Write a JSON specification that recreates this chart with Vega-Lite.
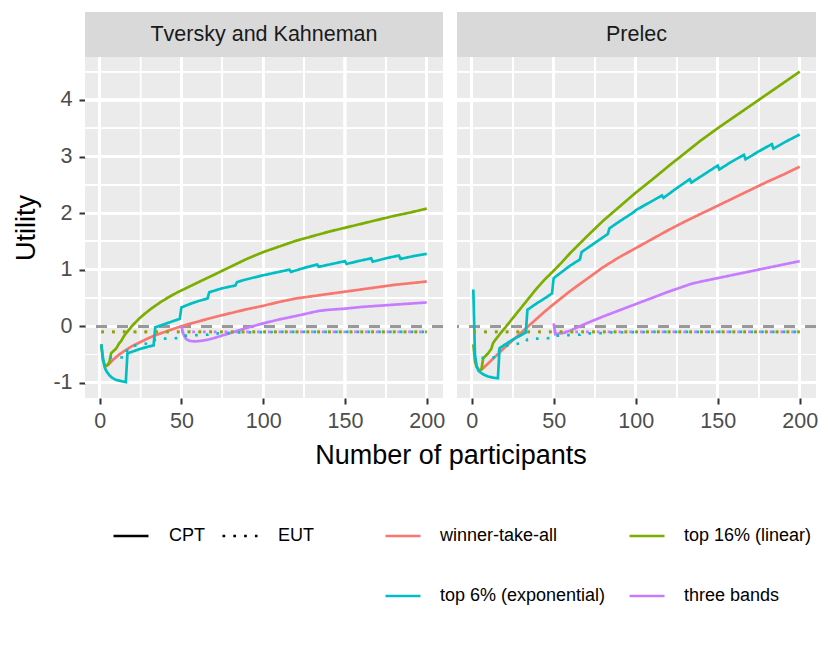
{
  "$schema": "https://vega.github.io/schema/vega-lite/v6.json",
  "padding": {"left": 12, "top": 12, "right": 10, "bottom": 10},
  "datasets": {
    "utility": [
      {"model": "TK", "scheme": "winner-take-all", "theory": "CPT", "n": 4, "utility": -0.71},
      {"model": "TK", "scheme": "winner-take-all", "theory": "CPT", "n": 5, "utility": -0.69},
      {"model": "TK", "scheme": "winner-take-all", "theory": "CPT", "n": 6, "utility": -0.66},
      {"model": "TK", "scheme": "winner-take-all", "theory": "CPT", "n": 8, "utility": -0.6},
      {"model": "TK", "scheme": "winner-take-all", "theory": "CPT", "n": 10, "utility": -0.55},
      {"model": "TK", "scheme": "winner-take-all", "theory": "CPT", "n": 12, "utility": -0.5},
      {"model": "TK", "scheme": "winner-take-all", "theory": "CPT", "n": 15, "utility": -0.44},
      {"model": "TK", "scheme": "winner-take-all", "theory": "CPT", "n": 20, "utility": -0.35},
      {"model": "TK", "scheme": "winner-take-all", "theory": "CPT", "n": 25, "utility": -0.28},
      {"model": "TK", "scheme": "winner-take-all", "theory": "CPT", "n": 30, "utility": -0.21},
      {"model": "TK", "scheme": "winner-take-all", "theory": "CPT", "n": 35, "utility": -0.15},
      {"model": "TK", "scheme": "winner-take-all", "theory": "CPT", "n": 40, "utility": -0.1},
      {"model": "TK", "scheme": "winner-take-all", "theory": "CPT", "n": 45, "utility": -0.05},
      {"model": "TK", "scheme": "winner-take-all", "theory": "CPT", "n": 50, "utility": 0.0},
      {"model": "TK", "scheme": "winner-take-all", "theory": "CPT", "n": 60, "utility": 0.08},
      {"model": "TK", "scheme": "winner-take-all", "theory": "CPT", "n": 70, "utility": 0.16},
      {"model": "TK", "scheme": "winner-take-all", "theory": "CPT", "n": 80, "utility": 0.23},
      {"model": "TK", "scheme": "winner-take-all", "theory": "CPT", "n": 90, "utility": 0.3},
      {"model": "TK", "scheme": "winner-take-all", "theory": "CPT", "n": 100, "utility": 0.36},
      {"model": "TK", "scheme": "winner-take-all", "theory": "CPT", "n": 110, "utility": 0.43},
      {"model": "TK", "scheme": "winner-take-all", "theory": "CPT", "n": 120, "utility": 0.49},
      {"model": "TK", "scheme": "winner-take-all", "theory": "CPT", "n": 130, "utility": 0.53},
      {"model": "TK", "scheme": "winner-take-all", "theory": "CPT", "n": 140, "utility": 0.57},
      {"model": "TK", "scheme": "winner-take-all", "theory": "CPT", "n": 150, "utility": 0.61},
      {"model": "TK", "scheme": "winner-take-all", "theory": "CPT", "n": 160, "utility": 0.65},
      {"model": "TK", "scheme": "winner-take-all", "theory": "CPT", "n": 170, "utility": 0.69},
      {"model": "TK", "scheme": "winner-take-all", "theory": "CPT", "n": 180, "utility": 0.73},
      {"model": "TK", "scheme": "winner-take-all", "theory": "CPT", "n": 190, "utility": 0.76},
      {"model": "TK", "scheme": "winner-take-all", "theory": "CPT", "n": 200, "utility": 0.79},

      {"model": "TK", "scheme": "top 16% (linear)", "theory": "CPT", "n": 1, "utility": -0.32},
      {"model": "TK", "scheme": "top 16% (linear)", "theory": "CPT", "n": 2, "utility": -0.6},
      {"model": "TK", "scheme": "top 16% (linear)", "theory": "CPT", "n": 3, "utility": -0.68},
      {"model": "TK", "scheme": "top 16% (linear)", "theory": "CPT", "n": 4, "utility": -0.7},
      {"model": "TK", "scheme": "top 16% (linear)", "theory": "CPT", "n": 5, "utility": -0.68},
      {"model": "TK", "scheme": "top 16% (linear)", "theory": "CPT", "n": 6, "utility": -0.63},
      {"model": "TK", "scheme": "top 16% (linear)", "theory": "CPT", "n": 7, "utility": -0.48},
      {"model": "TK", "scheme": "top 16% (linear)", "theory": "CPT", "n": 8, "utility": -0.45},
      {"model": "TK", "scheme": "top 16% (linear)", "theory": "CPT", "n": 10, "utility": -0.4},
      {"model": "TK", "scheme": "top 16% (linear)", "theory": "CPT", "n": 12, "utility": -0.3},
      {"model": "TK", "scheme": "top 16% (linear)", "theory": "CPT", "n": 13, "utility": -0.27},
      {"model": "TK", "scheme": "top 16% (linear)", "theory": "CPT", "n": 15, "utility": -0.17},
      {"model": "TK", "scheme": "top 16% (linear)", "theory": "CPT", "n": 18, "utility": -0.06},
      {"model": "TK", "scheme": "top 16% (linear)", "theory": "CPT", "n": 20, "utility": 0.01},
      {"model": "TK", "scheme": "top 16% (linear)", "theory": "CPT", "n": 24, "utility": 0.13},
      {"model": "TK", "scheme": "top 16% (linear)", "theory": "CPT", "n": 28, "utility": 0.23},
      {"model": "TK", "scheme": "top 16% (linear)", "theory": "CPT", "n": 32, "utility": 0.32},
      {"model": "TK", "scheme": "top 16% (linear)", "theory": "CPT", "n": 37, "utility": 0.42},
      {"model": "TK", "scheme": "top 16% (linear)", "theory": "CPT", "n": 42, "utility": 0.51},
      {"model": "TK", "scheme": "top 16% (linear)", "theory": "CPT", "n": 47, "utility": 0.59},
      {"model": "TK", "scheme": "top 16% (linear)", "theory": "CPT", "n": 52, "utility": 0.66},
      {"model": "TK", "scheme": "top 16% (linear)", "theory": "CPT", "n": 57, "utility": 0.73},
      {"model": "TK", "scheme": "top 16% (linear)", "theory": "CPT", "n": 62, "utility": 0.8},
      {"model": "TK", "scheme": "top 16% (linear)", "theory": "CPT", "n": 70, "utility": 0.91},
      {"model": "TK", "scheme": "top 16% (linear)", "theory": "CPT", "n": 80, "utility": 1.05},
      {"model": "TK", "scheme": "top 16% (linear)", "theory": "CPT", "n": 90, "utility": 1.19},
      {"model": "TK", "scheme": "top 16% (linear)", "theory": "CPT", "n": 100, "utility": 1.31},
      {"model": "TK", "scheme": "top 16% (linear)", "theory": "CPT", "n": 110, "utility": 1.41},
      {"model": "TK", "scheme": "top 16% (linear)", "theory": "CPT", "n": 120, "utility": 1.51},
      {"model": "TK", "scheme": "top 16% (linear)", "theory": "CPT", "n": 130, "utility": 1.59},
      {"model": "TK", "scheme": "top 16% (linear)", "theory": "CPT", "n": 140, "utility": 1.67},
      {"model": "TK", "scheme": "top 16% (linear)", "theory": "CPT", "n": 150, "utility": 1.74},
      {"model": "TK", "scheme": "top 16% (linear)", "theory": "CPT", "n": 160, "utility": 1.81},
      {"model": "TK", "scheme": "top 16% (linear)", "theory": "CPT", "n": 170, "utility": 1.88},
      {"model": "TK", "scheme": "top 16% (linear)", "theory": "CPT", "n": 180, "utility": 1.95},
      {"model": "TK", "scheme": "top 16% (linear)", "theory": "CPT", "n": 190, "utility": 2.01},
      {"model": "TK", "scheme": "top 16% (linear)", "theory": "CPT", "n": 200, "utility": 2.08},

      {"model": "TK", "scheme": "top 6% (exponential)", "theory": "CPT", "n": 1, "utility": -0.32},
      {"model": "TK", "scheme": "top 6% (exponential)", "theory": "CPT", "n": 2, "utility": -0.56},
      {"model": "TK", "scheme": "top 6% (exponential)", "theory": "CPT", "n": 3, "utility": -0.72},
      {"model": "TK", "scheme": "top 6% (exponential)", "theory": "CPT", "n": 4, "utility": -0.79},
      {"model": "TK", "scheme": "top 6% (exponential)", "theory": "CPT", "n": 6, "utility": -0.87},
      {"model": "TK", "scheme": "top 6% (exponential)", "theory": "CPT", "n": 8, "utility": -0.92},
      {"model": "TK", "scheme": "top 6% (exponential)", "theory": "CPT", "n": 10, "utility": -0.95},
      {"model": "TK", "scheme": "top 6% (exponential)", "theory": "CPT", "n": 13, "utility": -0.97},
      {"model": "TK", "scheme": "top 6% (exponential)", "theory": "CPT", "n": 16, "utility": -0.99},
      {"model": "TK", "scheme": "top 6% (exponential)", "theory": "CPT", "n": 17, "utility": -0.48},
      {"model": "TK", "scheme": "top 6% (exponential)", "theory": "CPT", "n": 20, "utility": -0.45},
      {"model": "TK", "scheme": "top 6% (exponential)", "theory": "CPT", "n": 25, "utility": -0.4},
      {"model": "TK", "scheme": "top 6% (exponential)", "theory": "CPT", "n": 30, "utility": -0.36},
      {"model": "TK", "scheme": "top 6% (exponential)", "theory": "CPT", "n": 33, "utility": -0.34},
      {"model": "TK", "scheme": "top 6% (exponential)", "theory": "CPT", "n": 34, "utility": -0.02},
      {"model": "TK", "scheme": "top 6% (exponential)", "theory": "CPT", "n": 40, "utility": 0.04},
      {"model": "TK", "scheme": "top 6% (exponential)", "theory": "CPT", "n": 45, "utility": 0.09},
      {"model": "TK", "scheme": "top 6% (exponential)", "theory": "CPT", "n": 49, "utility": 0.13},
      {"model": "TK", "scheme": "top 6% (exponential)", "theory": "CPT", "n": 50, "utility": 0.33},
      {"model": "TK", "scheme": "top 6% (exponential)", "theory": "CPT", "n": 55, "utility": 0.39},
      {"model": "TK", "scheme": "top 6% (exponential)", "theory": "CPT", "n": 60, "utility": 0.44},
      {"model": "TK", "scheme": "top 6% (exponential)", "theory": "CPT", "n": 66, "utility": 0.49},
      {"model": "TK", "scheme": "top 6% (exponential)", "theory": "CPT", "n": 67, "utility": 0.6},
      {"model": "TK", "scheme": "top 6% (exponential)", "theory": "CPT", "n": 75, "utility": 0.67},
      {"model": "TK", "scheme": "top 6% (exponential)", "theory": "CPT", "n": 83, "utility": 0.72},
      {"model": "TK", "scheme": "top 6% (exponential)", "theory": "CPT", "n": 84, "utility": 0.78},
      {"model": "TK", "scheme": "top 6% (exponential)", "theory": "CPT", "n": 90, "utility": 0.83},
      {"model": "TK", "scheme": "top 6% (exponential)", "theory": "CPT", "n": 100, "utility": 0.9},
      {"model": "TK", "scheme": "top 6% (exponential)", "theory": "CPT", "n": 108, "utility": 0.95},
      {"model": "TK", "scheme": "top 6% (exponential)", "theory": "CPT", "n": 116, "utility": 1.0},
      {"model": "TK", "scheme": "top 6% (exponential)", "theory": "CPT", "n": 117, "utility": 0.96},
      {"model": "TK", "scheme": "top 6% (exponential)", "theory": "CPT", "n": 125, "utility": 1.03},
      {"model": "TK", "scheme": "top 6% (exponential)", "theory": "CPT", "n": 133, "utility": 1.09},
      {"model": "TK", "scheme": "top 6% (exponential)", "theory": "CPT", "n": 134, "utility": 1.05},
      {"model": "TK", "scheme": "top 6% (exponential)", "theory": "CPT", "n": 142, "utility": 1.1},
      {"model": "TK", "scheme": "top 6% (exponential)", "theory": "CPT", "n": 150, "utility": 1.15},
      {"model": "TK", "scheme": "top 6% (exponential)", "theory": "CPT", "n": 151, "utility": 1.1},
      {"model": "TK", "scheme": "top 6% (exponential)", "theory": "CPT", "n": 158, "utility": 1.15},
      {"model": "TK", "scheme": "top 6% (exponential)", "theory": "CPT", "n": 166, "utility": 1.2},
      {"model": "TK", "scheme": "top 6% (exponential)", "theory": "CPT", "n": 167, "utility": 1.14},
      {"model": "TK", "scheme": "top 6% (exponential)", "theory": "CPT", "n": 175, "utility": 1.2},
      {"model": "TK", "scheme": "top 6% (exponential)", "theory": "CPT", "n": 183, "utility": 1.25},
      {"model": "TK", "scheme": "top 6% (exponential)", "theory": "CPT", "n": 184, "utility": 1.19},
      {"model": "TK", "scheme": "top 6% (exponential)", "theory": "CPT", "n": 192, "utility": 1.24},
      {"model": "TK", "scheme": "top 6% (exponential)", "theory": "CPT", "n": 200, "utility": 1.28},

      {"model": "TK", "scheme": "three bands", "theory": "CPT", "n": 50, "utility": 0.0},
      {"model": "TK", "scheme": "three bands", "theory": "CPT", "n": 51, "utility": -0.12},
      {"model": "TK", "scheme": "three bands", "theory": "CPT", "n": 52, "utility": -0.19},
      {"model": "TK", "scheme": "three bands", "theory": "CPT", "n": 53, "utility": -0.23},
      {"model": "TK", "scheme": "three bands", "theory": "CPT", "n": 55, "utility": -0.26},
      {"model": "TK", "scheme": "three bands", "theory": "CPT", "n": 58, "utility": -0.27},
      {"model": "TK", "scheme": "three bands", "theory": "CPT", "n": 62, "utility": -0.26},
      {"model": "TK", "scheme": "three bands", "theory": "CPT", "n": 66, "utility": -0.24},
      {"model": "TK", "scheme": "three bands", "theory": "CPT", "n": 70, "utility": -0.21},
      {"model": "TK", "scheme": "three bands", "theory": "CPT", "n": 80, "utility": -0.12},
      {"model": "TK", "scheme": "three bands", "theory": "CPT", "n": 90, "utility": -0.03},
      {"model": "TK", "scheme": "three bands", "theory": "CPT", "n": 100, "utility": 0.05},
      {"model": "TK", "scheme": "three bands", "theory": "CPT", "n": 110, "utility": 0.12},
      {"model": "TK", "scheme": "three bands", "theory": "CPT", "n": 120, "utility": 0.18},
      {"model": "TK", "scheme": "three bands", "theory": "CPT", "n": 134, "utility": 0.27},
      {"model": "TK", "scheme": "three bands", "theory": "CPT", "n": 140, "utility": 0.29},
      {"model": "TK", "scheme": "three bands", "theory": "CPT", "n": 150, "utility": 0.31},
      {"model": "TK", "scheme": "three bands", "theory": "CPT", "n": 160, "utility": 0.34},
      {"model": "TK", "scheme": "three bands", "theory": "CPT", "n": 170, "utility": 0.36},
      {"model": "TK", "scheme": "three bands", "theory": "CPT", "n": 180, "utility": 0.38},
      {"model": "TK", "scheme": "three bands", "theory": "CPT", "n": 190, "utility": 0.4},
      {"model": "TK", "scheme": "three bands", "theory": "CPT", "n": 200, "utility": 0.42},

      {"model": "Prelec", "scheme": "winner-take-all", "theory": "CPT", "n": 6, "utility": -0.77},
      {"model": "Prelec", "scheme": "winner-take-all", "theory": "CPT", "n": 10, "utility": -0.66},
      {"model": "Prelec", "scheme": "winner-take-all", "theory": "CPT", "n": 15, "utility": -0.52},
      {"model": "Prelec", "scheme": "winner-take-all", "theory": "CPT", "n": 20, "utility": -0.38},
      {"model": "Prelec", "scheme": "winner-take-all", "theory": "CPT", "n": 25, "utility": -0.25},
      {"model": "Prelec", "scheme": "winner-take-all", "theory": "CPT", "n": 30, "utility": -0.12},
      {"model": "Prelec", "scheme": "winner-take-all", "theory": "CPT", "n": 35, "utility": 0.01},
      {"model": "Prelec", "scheme": "winner-take-all", "theory": "CPT", "n": 40, "utility": 0.14},
      {"model": "Prelec", "scheme": "winner-take-all", "theory": "CPT", "n": 45, "utility": 0.27},
      {"model": "Prelec", "scheme": "winner-take-all", "theory": "CPT", "n": 50, "utility": 0.39},
      {"model": "Prelec", "scheme": "winner-take-all", "theory": "CPT", "n": 60, "utility": 0.62},
      {"model": "Prelec", "scheme": "winner-take-all", "theory": "CPT", "n": 70, "utility": 0.83},
      {"model": "Prelec", "scheme": "winner-take-all", "theory": "CPT", "n": 80, "utility": 1.04},
      {"model": "Prelec", "scheme": "winner-take-all", "theory": "CPT", "n": 90, "utility": 1.22},
      {"model": "Prelec", "scheme": "winner-take-all", "theory": "CPT", "n": 100, "utility": 1.38},
      {"model": "Prelec", "scheme": "winner-take-all", "theory": "CPT", "n": 110, "utility": 1.54},
      {"model": "Prelec", "scheme": "winner-take-all", "theory": "CPT", "n": 120, "utility": 1.7},
      {"model": "Prelec", "scheme": "winner-take-all", "theory": "CPT", "n": 130, "utility": 1.85},
      {"model": "Prelec", "scheme": "winner-take-all", "theory": "CPT", "n": 140, "utility": 1.99},
      {"model": "Prelec", "scheme": "winner-take-all", "theory": "CPT", "n": 150, "utility": 2.13},
      {"model": "Prelec", "scheme": "winner-take-all", "theory": "CPT", "n": 160, "utility": 2.27},
      {"model": "Prelec", "scheme": "winner-take-all", "theory": "CPT", "n": 170, "utility": 2.41},
      {"model": "Prelec", "scheme": "winner-take-all", "theory": "CPT", "n": 180, "utility": 2.55},
      {"model": "Prelec", "scheme": "winner-take-all", "theory": "CPT", "n": 190, "utility": 2.68},
      {"model": "Prelec", "scheme": "winner-take-all", "theory": "CPT", "n": 200, "utility": 2.82},

      {"model": "Prelec", "scheme": "top 16% (linear)", "theory": "CPT", "n": 1, "utility": -0.32},
      {"model": "Prelec", "scheme": "top 16% (linear)", "theory": "CPT", "n": 2, "utility": -0.62},
      {"model": "Prelec", "scheme": "top 16% (linear)", "theory": "CPT", "n": 3, "utility": -0.72},
      {"model": "Prelec", "scheme": "top 16% (linear)", "theory": "CPT", "n": 4, "utility": -0.76},
      {"model": "Prelec", "scheme": "top 16% (linear)", "theory": "CPT", "n": 5, "utility": -0.78},
      {"model": "Prelec", "scheme": "top 16% (linear)", "theory": "CPT", "n": 6, "utility": -0.76},
      {"model": "Prelec", "scheme": "top 16% (linear)", "theory": "CPT", "n": 7, "utility": -0.57},
      {"model": "Prelec", "scheme": "top 16% (linear)", "theory": "CPT", "n": 8, "utility": -0.54},
      {"model": "Prelec", "scheme": "top 16% (linear)", "theory": "CPT", "n": 10, "utility": -0.48},
      {"model": "Prelec", "scheme": "top 16% (linear)", "theory": "CPT", "n": 12, "utility": -0.4},
      {"model": "Prelec", "scheme": "top 16% (linear)", "theory": "CPT", "n": 13, "utility": -0.3},
      {"model": "Prelec", "scheme": "top 16% (linear)", "theory": "CPT", "n": 15, "utility": -0.22},
      {"model": "Prelec", "scheme": "top 16% (linear)", "theory": "CPT", "n": 18, "utility": -0.11},
      {"model": "Prelec", "scheme": "top 16% (linear)", "theory": "CPT", "n": 20, "utility": -0.04},
      {"model": "Prelec", "scheme": "top 16% (linear)", "theory": "CPT", "n": 25, "utility": 0.14},
      {"model": "Prelec", "scheme": "top 16% (linear)", "theory": "CPT", "n": 30, "utility": 0.32},
      {"model": "Prelec", "scheme": "top 16% (linear)", "theory": "CPT", "n": 35, "utility": 0.5},
      {"model": "Prelec", "scheme": "top 16% (linear)", "theory": "CPT", "n": 40, "utility": 0.68},
      {"model": "Prelec", "scheme": "top 16% (linear)", "theory": "CPT", "n": 45, "utility": 0.84},
      {"model": "Prelec", "scheme": "top 16% (linear)", "theory": "CPT", "n": 50, "utility": 0.98},
      {"model": "Prelec", "scheme": "top 16% (linear)", "theory": "CPT", "n": 55, "utility": 1.13},
      {"model": "Prelec", "scheme": "top 16% (linear)", "theory": "CPT", "n": 60, "utility": 1.29},
      {"model": "Prelec", "scheme": "top 16% (linear)", "theory": "CPT", "n": 70, "utility": 1.58},
      {"model": "Prelec", "scheme": "top 16% (linear)", "theory": "CPT", "n": 80, "utility": 1.86},
      {"model": "Prelec", "scheme": "top 16% (linear)", "theory": "CPT", "n": 90, "utility": 2.11},
      {"model": "Prelec", "scheme": "top 16% (linear)", "theory": "CPT", "n": 100, "utility": 2.36},
      {"model": "Prelec", "scheme": "top 16% (linear)", "theory": "CPT", "n": 110, "utility": 2.59},
      {"model": "Prelec", "scheme": "top 16% (linear)", "theory": "CPT", "n": 120, "utility": 2.83},
      {"model": "Prelec", "scheme": "top 16% (linear)", "theory": "CPT", "n": 130, "utility": 3.06},
      {"model": "Prelec", "scheme": "top 16% (linear)", "theory": "CPT", "n": 140, "utility": 3.29},
      {"model": "Prelec", "scheme": "top 16% (linear)", "theory": "CPT", "n": 150, "utility": 3.5},
      {"model": "Prelec", "scheme": "top 16% (linear)", "theory": "CPT", "n": 160, "utility": 3.7},
      {"model": "Prelec", "scheme": "top 16% (linear)", "theory": "CPT", "n": 170, "utility": 3.9},
      {"model": "Prelec", "scheme": "top 16% (linear)", "theory": "CPT", "n": 180, "utility": 4.1},
      {"model": "Prelec", "scheme": "top 16% (linear)", "theory": "CPT", "n": 190, "utility": 4.3},
      {"model": "Prelec", "scheme": "top 16% (linear)", "theory": "CPT", "n": 200, "utility": 4.5},

      {"model": "Prelec", "scheme": "top 6% (exponential)", "theory": "CPT", "n": 1, "utility": 0.65},
      {"model": "Prelec", "scheme": "top 6% (exponential)", "theory": "CPT", "n": 2, "utility": -0.5},
      {"model": "Prelec", "scheme": "top 6% (exponential)", "theory": "CPT", "n": 3, "utility": -0.7},
      {"model": "Prelec", "scheme": "top 6% (exponential)", "theory": "CPT", "n": 4, "utility": -0.78},
      {"model": "Prelec", "scheme": "top 6% (exponential)", "theory": "CPT", "n": 5, "utility": -0.81},
      {"model": "Prelec", "scheme": "top 6% (exponential)", "theory": "CPT", "n": 7, "utility": -0.85},
      {"model": "Prelec", "scheme": "top 6% (exponential)", "theory": "CPT", "n": 10, "utility": -0.89},
      {"model": "Prelec", "scheme": "top 6% (exponential)", "theory": "CPT", "n": 13, "utility": -0.91},
      {"model": "Prelec", "scheme": "top 6% (exponential)", "theory": "CPT", "n": 16, "utility": -0.92},
      {"model": "Prelec", "scheme": "top 6% (exponential)", "theory": "CPT", "n": 17, "utility": -0.39},
      {"model": "Prelec", "scheme": "top 6% (exponential)", "theory": "CPT", "n": 20, "utility": -0.33},
      {"model": "Prelec", "scheme": "top 6% (exponential)", "theory": "CPT", "n": 25, "utility": -0.24},
      {"model": "Prelec", "scheme": "top 6% (exponential)", "theory": "CPT", "n": 30, "utility": -0.16},
      {"model": "Prelec", "scheme": "top 6% (exponential)", "theory": "CPT", "n": 33, "utility": -0.11},
      {"model": "Prelec", "scheme": "top 6% (exponential)", "theory": "CPT", "n": 34, "utility": 0.29},
      {"model": "Prelec", "scheme": "top 6% (exponential)", "theory": "CPT", "n": 40, "utility": 0.41},
      {"model": "Prelec", "scheme": "top 6% (exponential)", "theory": "CPT", "n": 45, "utility": 0.5},
      {"model": "Prelec", "scheme": "top 6% (exponential)", "theory": "CPT", "n": 49, "utility": 0.58},
      {"model": "Prelec", "scheme": "top 6% (exponential)", "theory": "CPT", "n": 50, "utility": 0.85},
      {"model": "Prelec", "scheme": "top 6% (exponential)", "theory": "CPT", "n": 55, "utility": 0.96},
      {"model": "Prelec", "scheme": "top 6% (exponential)", "theory": "CPT", "n": 60, "utility": 1.07},
      {"model": "Prelec", "scheme": "top 6% (exponential)", "theory": "CPT", "n": 66, "utility": 1.18},
      {"model": "Prelec", "scheme": "top 6% (exponential)", "theory": "CPT", "n": 67, "utility": 1.31},
      {"model": "Prelec", "scheme": "top 6% (exponential)", "theory": "CPT", "n": 75, "utility": 1.47},
      {"model": "Prelec", "scheme": "top 6% (exponential)", "theory": "CPT", "n": 83, "utility": 1.63},
      {"model": "Prelec", "scheme": "top 6% (exponential)", "theory": "CPT", "n": 84, "utility": 1.73},
      {"model": "Prelec", "scheme": "top 6% (exponential)", "theory": "CPT", "n": 90, "utility": 1.85},
      {"model": "Prelec", "scheme": "top 6% (exponential)", "theory": "CPT", "n": 99, "utility": 2.02},
      {"model": "Prelec", "scheme": "top 6% (exponential)", "theory": "CPT", "n": 100, "utility": 2.05},
      {"model": "Prelec", "scheme": "top 6% (exponential)", "theory": "CPT", "n": 108, "utility": 2.18},
      {"model": "Prelec", "scheme": "top 6% (exponential)", "theory": "CPT", "n": 116, "utility": 2.31},
      {"model": "Prelec", "scheme": "top 6% (exponential)", "theory": "CPT", "n": 117, "utility": 2.27},
      {"model": "Prelec", "scheme": "top 6% (exponential)", "theory": "CPT", "n": 125, "utility": 2.44},
      {"model": "Prelec", "scheme": "top 6% (exponential)", "theory": "CPT", "n": 133, "utility": 2.6},
      {"model": "Prelec", "scheme": "top 6% (exponential)", "theory": "CPT", "n": 134, "utility": 2.54},
      {"model": "Prelec", "scheme": "top 6% (exponential)", "theory": "CPT", "n": 142, "utility": 2.69},
      {"model": "Prelec", "scheme": "top 6% (exponential)", "theory": "CPT", "n": 150, "utility": 2.84},
      {"model": "Prelec", "scheme": "top 6% (exponential)", "theory": "CPT", "n": 151, "utility": 2.77},
      {"model": "Prelec", "scheme": "top 6% (exponential)", "theory": "CPT", "n": 158, "utility": 2.9},
      {"model": "Prelec", "scheme": "top 6% (exponential)", "theory": "CPT", "n": 166, "utility": 3.03},
      {"model": "Prelec", "scheme": "top 6% (exponential)", "theory": "CPT", "n": 167, "utility": 2.95},
      {"model": "Prelec", "scheme": "top 6% (exponential)", "theory": "CPT", "n": 175, "utility": 3.09},
      {"model": "Prelec", "scheme": "top 6% (exponential)", "theory": "CPT", "n": 183, "utility": 3.22},
      {"model": "Prelec", "scheme": "top 6% (exponential)", "theory": "CPT", "n": 184, "utility": 3.14},
      {"model": "Prelec", "scheme": "top 6% (exponential)", "theory": "CPT", "n": 192, "utility": 3.27},
      {"model": "Prelec", "scheme": "top 6% (exponential)", "theory": "CPT", "n": 200, "utility": 3.39},

      {"model": "Prelec", "scheme": "three bands", "theory": "CPT", "n": 50, "utility": 0.05},
      {"model": "Prelec", "scheme": "three bands", "theory": "CPT", "n": 51, "utility": -0.14},
      {"model": "Prelec", "scheme": "three bands", "theory": "CPT", "n": 53, "utility": -0.13},
      {"model": "Prelec", "scheme": "three bands", "theory": "CPT", "n": 56, "utility": -0.12},
      {"model": "Prelec", "scheme": "three bands", "theory": "CPT", "n": 60, "utility": -0.08},
      {"model": "Prelec", "scheme": "three bands", "theory": "CPT", "n": 70, "utility": 0.05},
      {"model": "Prelec", "scheme": "three bands", "theory": "CPT", "n": 80, "utility": 0.17},
      {"model": "Prelec", "scheme": "three bands", "theory": "CPT", "n": 90, "utility": 0.28},
      {"model": "Prelec", "scheme": "three bands", "theory": "CPT", "n": 100, "utility": 0.39},
      {"model": "Prelec", "scheme": "three bands", "theory": "CPT", "n": 110, "utility": 0.5},
      {"model": "Prelec", "scheme": "three bands", "theory": "CPT", "n": 120, "utility": 0.61},
      {"model": "Prelec", "scheme": "three bands", "theory": "CPT", "n": 127, "utility": 0.68},
      {"model": "Prelec", "scheme": "three bands", "theory": "CPT", "n": 134, "utility": 0.75},
      {"model": "Prelec", "scheme": "three bands", "theory": "CPT", "n": 140, "utility": 0.79},
      {"model": "Prelec", "scheme": "three bands", "theory": "CPT", "n": 150, "utility": 0.85},
      {"model": "Prelec", "scheme": "three bands", "theory": "CPT", "n": 160, "utility": 0.91},
      {"model": "Prelec", "scheme": "three bands", "theory": "CPT", "n": 170, "utility": 0.97},
      {"model": "Prelec", "scheme": "three bands", "theory": "CPT", "n": 180, "utility": 1.03},
      {"model": "Prelec", "scheme": "three bands", "theory": "CPT", "n": 190, "utility": 1.09},
      {"model": "Prelec", "scheme": "three bands", "theory": "CPT", "n": 200, "utility": 1.15},

      {"model": "both", "scheme": "winner-take-all", "theory": "EUT", "n": 1, "utility": -0.1},
      {"model": "both", "scheme": "winner-take-all", "theory": "EUT", "n": 200, "utility": -0.1},
      {"model": "both", "scheme": "top 16% (linear)", "theory": "EUT", "n": 1, "utility": -0.1},
      {"model": "both", "scheme": "top 16% (linear)", "theory": "EUT", "n": 200, "utility": -0.1},
      {"model": "both", "scheme": "top 6% (exponential)", "theory": "EUT", "n": 6, "utility": -0.56},
      {"model": "both", "scheme": "top 6% (exponential)", "theory": "EUT", "n": 16, "utility": -0.55},
      {"model": "both", "scheme": "top 6% (exponential)", "theory": "EUT", "n": 17, "utility": -0.39},
      {"model": "both", "scheme": "top 6% (exponential)", "theory": "EUT", "n": 22, "utility": -0.34},
      {"model": "both", "scheme": "top 6% (exponential)", "theory": "EUT", "n": 28, "utility": -0.31},
      {"model": "both", "scheme": "top 6% (exponential)", "theory": "EUT", "n": 33, "utility": -0.29},
      {"model": "both", "scheme": "top 6% (exponential)", "theory": "EUT", "n": 34, "utility": -0.23},
      {"model": "both", "scheme": "top 6% (exponential)", "theory": "EUT", "n": 40, "utility": -0.22},
      {"model": "both", "scheme": "top 6% (exponential)", "theory": "EUT", "n": 49, "utility": -0.21},
      {"model": "both", "scheme": "top 6% (exponential)", "theory": "EUT", "n": 50, "utility": -0.17},
      {"model": "both", "scheme": "top 6% (exponential)", "theory": "EUT", "n": 58, "utility": -0.16},
      {"model": "both", "scheme": "top 6% (exponential)", "theory": "EUT", "n": 66, "utility": -0.15},
      {"model": "both", "scheme": "top 6% (exponential)", "theory": "EUT", "n": 67, "utility": -0.13},
      {"model": "both", "scheme": "top 6% (exponential)", "theory": "EUT", "n": 83, "utility": -0.12},
      {"model": "both", "scheme": "top 6% (exponential)", "theory": "EUT", "n": 84, "utility": -0.11},
      {"model": "both", "scheme": "top 6% (exponential)", "theory": "EUT", "n": 100, "utility": -0.105},
      {"model": "both", "scheme": "top 6% (exponential)", "theory": "EUT", "n": 117, "utility": -0.1},
      {"model": "both", "scheme": "top 6% (exponential)", "theory": "EUT", "n": 200, "utility": -0.1},
      {"model": "both", "scheme": "three bands", "theory": "EUT", "n": 50, "utility": -0.1},
      {"model": "both", "scheme": "three bands", "theory": "EUT", "n": 200, "utility": -0.1}
    ]
  },
  "columns": 2,
  "spacing": {"row": 0, "column": 14},
  "bounds": "flush",
  "concat": [
    {
      "width": 358,
      "height": 45,
      "view": {"fill": "#D9D9D9", "stroke": null},
      "data": {"values": [{"panel": "Tversky and Kahneman"}]},
      "mark": {"type": "text", "fontSize": 21.5, "color": "#1A1A1A"},
      "encoding": {"text": {"field": "panel", "type": "nominal"}}
    },
    {
      "width": 359,
      "height": 45,
      "view": {"fill": "#D9D9D9", "stroke": null},
      "data": {"values": [{"panel": "Prelec"}]},
      "mark": {"type": "text", "fontSize": 21.5, "color": "#1A1A1A"},
      "encoding": {"text": {"field": "panel", "type": "nominal"}}
    },
    {
      "width": 358,
      "height": 341,
      "view": {"fill": "#EBEBEB", "stroke": null},
      "data": {"name": "utility"},
      "transform": [{"filter": "datum.model == 'TK' || datum.model == 'both'"}],
      "layer": [
        {"mark": {"type": "rule", "color": "#FFFFFF", "strokeWidth": 1.15}, "encoding": {"x": {"datum": 25}}},
        {"mark": {"type": "rule", "color": "#FFFFFF", "strokeWidth": 1.15}, "encoding": {"x": {"datum": 75}}},
        {"mark": {"type": "rule", "color": "#FFFFFF", "strokeWidth": 1.15}, "encoding": {"x": {"datum": 125}}},
        {"mark": {"type": "rule", "color": "#FFFFFF", "strokeWidth": 1.15}, "encoding": {"x": {"datum": 175}}},
        {"mark": {"type": "rule", "color": "#FFFFFF", "strokeWidth": 1.15}, "encoding": {"y": {"datum": -0.5}}},
        {"mark": {"type": "rule", "color": "#FFFFFF", "strokeWidth": 1.15}, "encoding": {"y": {"datum": 0.5}}},
        {"mark": {"type": "rule", "color": "#FFFFFF", "strokeWidth": 1.15}, "encoding": {"y": {"datum": 1.5}}},
        {"mark": {"type": "rule", "color": "#FFFFFF", "strokeWidth": 1.15}, "encoding": {"y": {"datum": 2.5}}},
        {"mark": {"type": "rule", "color": "#FFFFFF", "strokeWidth": 1.15}, "encoding": {"y": {"datum": 3.5}}},
        {"mark": {"type": "rule", "color": "#FFFFFF", "strokeWidth": 1.15}, "encoding": {"y": {"datum": 4.5}}},
        {"mark": {"type": "rule", "color": "#FFFFFF", "strokeWidth": 2.3}, "encoding": {"x": {"datum": 0}}},
        {"mark": {"type": "rule", "color": "#FFFFFF", "strokeWidth": 2.3}, "encoding": {"x": {"datum": 50}}},
        {"mark": {"type": "rule", "color": "#FFFFFF", "strokeWidth": 2.3}, "encoding": {"x": {"datum": 100}}},
        {"mark": {"type": "rule", "color": "#FFFFFF", "strokeWidth": 2.3}, "encoding": {"x": {"datum": 150}}},
        {"mark": {"type": "rule", "color": "#FFFFFF", "strokeWidth": 2.3}, "encoding": {"x": {"datum": 200}}},
        {"mark": {"type": "rule", "color": "#FFFFFF", "strokeWidth": 2.3}, "encoding": {"y": {"datum": -1}}},
        {"mark": {"type": "rule", "color": "#FFFFFF", "strokeWidth": 2.3}, "encoding": {"y": {"datum": 0}}},
        {"mark": {"type": "rule", "color": "#FFFFFF", "strokeWidth": 2.3}, "encoding": {"y": {"datum": 1}}},
        {"mark": {"type": "rule", "color": "#FFFFFF", "strokeWidth": 2.3}, "encoding": {"y": {"datum": 2}}},
        {"mark": {"type": "rule", "color": "#FFFFFF", "strokeWidth": 2.3}, "encoding": {"y": {"datum": 3}}},
        {"mark": {"type": "rule", "color": "#FFFFFF", "strokeWidth": 2.3}, "encoding": {"y": {"datum": 4}}},
        {"mark": {"type": "rule", "color": "#999999", "strokeWidth": 2.3, "strokeDash": [10.5, 10.5]}, "encoding": {"y": {"datum": 0}}},
        {
          "transform": [{"filter": "datum.theory == 'CPT'"}],
          "mark": {"type": "line", "strokeWidth": 2.7},
          "encoding": {
            "x": {
              "field": "n", "type": "quantitative",
              "scale": {"domain": [-8.95, 209.95], "nice": false, "zero": false},
              "axis": {"values": [0, 50, 100, 150, 200], "grid": false, "title": "Number of participants", "titleX": 365.5, "titleAlign": "center", "titlePadding": 11}
            },
            "y": {
              "field": "utility", "type": "quantitative",
              "scale": {"domain": [-1.27, 4.76], "nice": false, "zero": false},
              "axis": {"values": [-1, 0, 1, 2, 3, 4], "grid": false, "title": "Utility", "titlePadding": 12, "labelExpr": "toString(datum.value)"}
            },
            "color": {
              "field": "scheme", "type": "nominal",
              "scale": {"domain": ["winner-take-all", "top 16% (linear)", "top 6% (exponential)", "three bands"], "range": ["#F8766D", "#7CAE00", "#00BFC4", "#C77CFF"]},
              "legend": {"title": null, "orient": "none", "legendX": 299, "legendY": 505, "direction": "horizontal", "columns": 2, "columnPadding": 18, "rowPadding": 32, "labelOffset": 18}
            },
            "strokeDash": {
              "field": "theory", "type": "nominal",
              "scale": {"domain": ["CPT", "EUT"], "range": [[1, 0], [2.7, 8.1]]},
              "legend": {"title": null, "orient": "none", "legendX": 27, "legendY": 505, "direction": "horizontal", "columns": 2, "columnPadding": 12, "labelOffset": 19, "symbolStrokeColor": "#000000"}
            }
          }
        },
        {
          "transform": [{"filter": "datum.theory == 'EUT'"}],
          "mark": {"type": "line", "strokeWidth": 2.7},
          "encoding": {
            "x": {"field": "n", "type": "quantitative"},
            "y": {"field": "utility", "type": "quantitative"},
            "color": {"field": "scheme", "type": "nominal"},
            "strokeDash": {"field": "theory", "type": "nominal"}
          }
        }
      ]
    },
    {
      "width": 359,
      "height": 341,
      "view": {"fill": "#EBEBEB", "stroke": null},
      "data": {"name": "utility"},
      "transform": [{"filter": "datum.model == 'Prelec' || datum.model == 'both'"}],
      "layer": [
        {"mark": {"type": "rule", "color": "#FFFFFF", "strokeWidth": 1.15}, "encoding": {"x": {"datum": 25}}},
        {"mark": {"type": "rule", "color": "#FFFFFF", "strokeWidth": 1.15}, "encoding": {"x": {"datum": 75}}},
        {"mark": {"type": "rule", "color": "#FFFFFF", "strokeWidth": 1.15}, "encoding": {"x": {"datum": 125}}},
        {"mark": {"type": "rule", "color": "#FFFFFF", "strokeWidth": 1.15}, "encoding": {"x": {"datum": 175}}},
        {"mark": {"type": "rule", "color": "#FFFFFF", "strokeWidth": 1.15}, "encoding": {"y": {"datum": -0.5}}},
        {"mark": {"type": "rule", "color": "#FFFFFF", "strokeWidth": 1.15}, "encoding": {"y": {"datum": 0.5}}},
        {"mark": {"type": "rule", "color": "#FFFFFF", "strokeWidth": 1.15}, "encoding": {"y": {"datum": 1.5}}},
        {"mark": {"type": "rule", "color": "#FFFFFF", "strokeWidth": 1.15}, "encoding": {"y": {"datum": 2.5}}},
        {"mark": {"type": "rule", "color": "#FFFFFF", "strokeWidth": 1.15}, "encoding": {"y": {"datum": 3.5}}},
        {"mark": {"type": "rule", "color": "#FFFFFF", "strokeWidth": 1.15}, "encoding": {"y": {"datum": 4.5}}},
        {"mark": {"type": "rule", "color": "#FFFFFF", "strokeWidth": 2.3}, "encoding": {"x": {"datum": 0}}},
        {"mark": {"type": "rule", "color": "#FFFFFF", "strokeWidth": 2.3}, "encoding": {"x": {"datum": 50}}},
        {"mark": {"type": "rule", "color": "#FFFFFF", "strokeWidth": 2.3}, "encoding": {"x": {"datum": 100}}},
        {"mark": {"type": "rule", "color": "#FFFFFF", "strokeWidth": 2.3}, "encoding": {"x": {"datum": 150}}},
        {"mark": {"type": "rule", "color": "#FFFFFF", "strokeWidth": 2.3}, "encoding": {"x": {"datum": 200}}},
        {"mark": {"type": "rule", "color": "#FFFFFF", "strokeWidth": 2.3}, "encoding": {"y": {"datum": -1}}},
        {"mark": {"type": "rule", "color": "#FFFFFF", "strokeWidth": 2.3}, "encoding": {"y": {"datum": 0}}},
        {"mark": {"type": "rule", "color": "#FFFFFF", "strokeWidth": 2.3}, "encoding": {"y": {"datum": 1}}},
        {"mark": {"type": "rule", "color": "#FFFFFF", "strokeWidth": 2.3}, "encoding": {"y": {"datum": 2}}},
        {"mark": {"type": "rule", "color": "#FFFFFF", "strokeWidth": 2.3}, "encoding": {"y": {"datum": 3}}},
        {"mark": {"type": "rule", "color": "#FFFFFF", "strokeWidth": 2.3}, "encoding": {"y": {"datum": 4}}},
        {"mark": {"type": "rule", "color": "#999999", "strokeWidth": 2.3, "strokeDash": [10.5, 10.5]}, "encoding": {"y": {"datum": 0}}},
        {
          "transform": [{"filter": "datum.theory == 'CPT'"}],
          "mark": {"type": "line", "strokeWidth": 2.7},
          "encoding": {
            "x": {
              "field": "n", "type": "quantitative",
              "scale": {"domain": [-8.95, 209.95], "nice": false, "zero": false},
              "axis": {"values": [0, 50, 100, 150, 200], "grid": false, "title": null}
            },
            "y": {
              "field": "utility", "type": "quantitative",
              "scale": {"domain": [-1.27, 4.76], "nice": false, "zero": false},
              "axis": {"values": [-1, 0, 1, 2, 3, 4], "grid": false, "labels": false, "ticks": false, "title": null}
            },
            "color": {"field": "scheme", "type": "nominal"},
            "strokeDash": {"field": "theory", "type": "nominal"}
          }
        },
        {
          "transform": [{"filter": "datum.theory == 'EUT'"}],
          "mark": {"type": "line", "strokeWidth": 2.7},
          "encoding": {
            "x": {"field": "n", "type": "quantitative"},
            "y": {"field": "utility", "type": "quantitative"},
            "color": {"field": "scheme", "type": "nominal"},
            "strokeDash": {"field": "theory", "type": "nominal"}
          }
        }
      ]
    }
  ],
  "resolve": {
    "scale": {"color": "shared", "strokeDash": "shared"},
    "legend": {"color": "shared", "strokeDash": "shared"}
  },
  "config": {
    "font": "Liberation Sans",
    "view": {"stroke": null},
    "axis": {
      "domain": false,
      "grid": false,
      "tickColor": "#333333",
      "tickWidth": 2,
      "tickSize": 6,
      "labelFont": "Liberation Sans",
      "labelFontSize": 21.5,
      "labelColor": "#4D4D4D",
      "labelPadding": 6,
      "titleFont": "Liberation Sans",
      "titleFontSize": 27,
      "titleFontWeight": "normal",
      "titleColor": "#000000"
    },
    "axisY": {"labelPadding": 7},
    "legend": {
      "labelFont": "Liberation Sans",
      "labelFontSize": 18,
      "labelColor": "#000000",
      "labelLimit": 400,
      "symbolType": "stroke",
      "symbolSize": 1225,
      "symbolStrokeWidth": 2.7,
      "padding": 0
    }
  }
}
